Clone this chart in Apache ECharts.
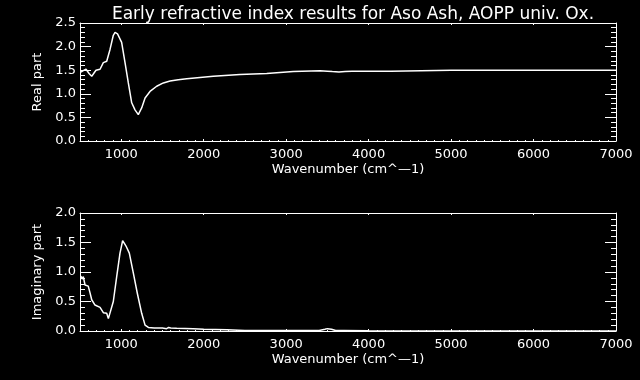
<!DOCTYPE html>
<html>
<head>
<meta charset="utf-8">
<script src="https://cdn.jsdelivr.net/npm/echarts@6/dist/echarts.min.js"></script>
<style>html,body{margin:0;padding:0;background:#000;}#c{width:640px;height:380px;}</style>
</head>
<body>
<div id="c"></div>
<script>
// ---- data ----
var titleText = 'Early refractive index results for Aso Ash, AOPP univ. Ox.';
var xName = 'Wavenumber (cm^\u20141)';
var realName = 'Real part';
var imagName = 'Imaginary part';

var xMajorTicks = [1000, 2000, 3000, 4000, 5000, 6000, 7000];

var realWn = [510, 540, 573, 610, 642, 670, 694, 743, 783, 824, 864, 904, 925, 937, 955, 977, 1005, 1046, 1086, 1127, 1167, 1190, 1207, 1225, 1248, 1289, 1349, 1430, 1511, 1592, 1692, 1794, 2117, 2440, 2764, 3087, 3410, 3500, 3560, 3640, 3715, 3800, 4000, 4270, 4290, 5000, 6000, 7000];
var realN  = [1.46, 1.49, 1.52, 1.43, 1.37, 1.44, 1.50, 1.52, 1.66, 1.69, 1.94, 2.24, 2.30, 2.29, 2.27, 2.23, 2.09, 1.66, 1.23, 0.81, 0.66, 0.62, 0.56, 0.60, 0.70, 0.91, 1.05, 1.16, 1.23, 1.27, 1.30, 1.32, 1.37, 1.41, 1.43, 1.47, 1.49, 1.48, 1.47, 1.46, 1.47, 1.48, 1.48, 1.48, 1.50, 1.50, 1.50, 1.50];

var imagWn = [510, 525, 540, 561, 580, 600, 621, 642, 682, 743, 783, 824, 844, 864, 904, 945, 985, 1005, 1017, 1040, 1058, 1098, 1147, 1195, 1248, 1289, 1329, 1400, 1500, 1550, 1575, 1600, 1672, 1874, 2000, 2280, 2500, 3000, 3400, 3470, 3500, 3550, 3600, 3700, 4000, 5000, 6000, 7000];
var imagK  = [0.93, 0.88, 0.92, 0.78, 0.81, 0.76, 0.65, 0.53, 0.44, 0.40, 0.31, 0.30, 0.21, 0.22, 0.50, 0.92, 1.32, 1.45, 1.53, 1.48, 1.44, 1.32, 0.98, 0.64, 0.30, 0.10, 0.06, 0.05, 0.05, 0.04, 0.06, 0.05, 0.045, 0.04, 0.03, 0.02, 0.01, 0.01, 0.01, 0.03, 0.04, 0.03, 0.01, 0.01, 0.005, 0.0, 0.0, 0.0];

// ---- build ----
var xMin = 500, xMax = 7000;
var xMinor = [];
for (var v = 600; v < 7000; v += 100) { if (v % 1000 !== 0) xMinor.push(v); }

var FONT = 'DejaVu Sans';
var W = '#ffffff';

function pairs(xs, ys) { return xs.map(function (x, i) { return [x, ys[i]]; }); }

function xAxes(g, withName) {
  var base = {
    type: 'value', gridIndex: g, min: xMin, max: xMax,
    axisLine: { show: true, onZero: false, lineStyle: { color: W, width: 1 } },
    splitLine: { show: false }
  };
  return [
    Object.assign({}, base, {
      position: 'bottom',
      name: withName ? xName : '', nameLocation: 'middle', nameGap: 22,
      nameTextStyle: { color: W, fontFamily: FONT, fontSize: 13 },
      axisTick: { show: true, inside: true, length: 2, customValues: xMajorTicks, lineStyle: { color: W } },
      axisLabel: { show: true, color: W, fontFamily: FONT, fontSize: 13, margin: 7, customValues: xMajorTicks,
        formatter: function (v) { return String(Math.round(v)); } }
    }),
    Object.assign({}, base, {
      position: 'top',
      axisTick: { show: true, inside: true, length: 2, customValues: xMajorTicks, lineStyle: { color: W } },
      axisLabel: { show: false }
    }),
    Object.assign({}, base, {
      position: 'bottom',
      axisLine: { show: false, onZero: false },
      axisTick: { show: true, inside: true, length: 1, customValues: xMinor, lineStyle: { color: W } },
      axisLabel: { show: false }
    }),
    Object.assign({}, base, {
      position: 'top',
      axisLine: { show: false, onZero: false },
      axisTick: { show: true, inside: true, length: 1, customValues: xMinor, lineStyle: { color: W } },
      axisLabel: { show: false }
    })
  ];
}

function yAxes(g, max, name) {
  var base = {
    type: 'value', gridIndex: g, min: 0, max: max, interval: 0.5,
    axisLine: { show: true, onZero: false, lineStyle: { color: W, width: 1 } },
    axisTick: { show: true, inside: true, length: 11, lineStyle: { color: W } },
    minorTick: { show: true, splitNumber: 5, length: 5, lineStyle: { color: W } },
    splitLine: { show: false }
  };
  return [
    Object.assign({}, base, {
      position: 'left',
      name: name, nameLocation: 'middle', nameGap: 34,
      nameTextStyle: { color: W, fontFamily: FONT, fontSize: 13 },
      axisLabel: { show: true, color: W, fontFamily: FONT, fontSize: 13, margin: 4,
        formatter: function (v) { return v.toFixed(1); } }
    }),
    Object.assign({}, base, {
      position: 'right',
      axisLabel: { show: false }
    })
  ];
}

var chart = echarts.init(document.getElementById('c'), null, { renderer: 'canvas' });
chart.setOption({
  backgroundColor: '#000000',
  animation: false,
  title: {
    text: titleText, left: 348, top: 1, textAlign: 'center',
    textStyle: { color: W, fontFamily: FONT, fontSize: 17, fontWeight: 'normal' }
  },
  grid: [
    { left: 80, right: 24, top: 23, height: 118 },
    { left: 80, right: 24, top: 213, height: 118 }
  ],
  xAxis: xAxes(0, true).concat(xAxes(1, true)),
  yAxis: yAxes(0, 2.5, realName).concat(yAxes(1, 2.0, imagName)),
  series: [
    { type: 'line', xAxisIndex: 0, yAxisIndex: 0, data: pairs(realWn, realN),
      showSymbol: false, lineStyle: { color: W, width: 1.5 } },
    { type: 'line', xAxisIndex: 4, yAxisIndex: 2, data: pairs(imagWn, imagK),
      showSymbol: false, lineStyle: { color: W, width: 1.5 } }
  ]
});
</script>
</body>
</html>
